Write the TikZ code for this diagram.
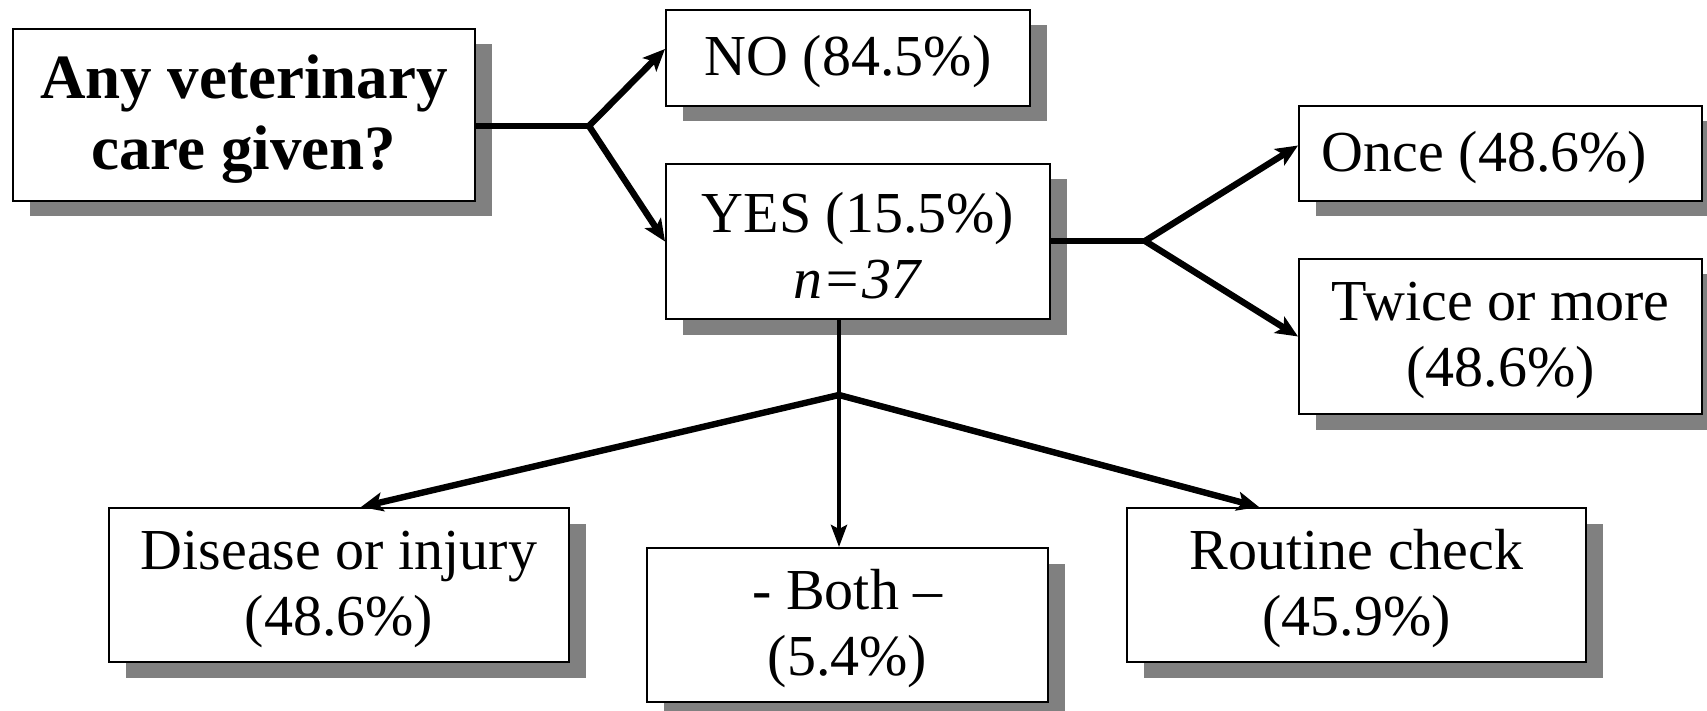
\documentclass[tikz,border=0pt]{standalone}
\usepackage{fontspec}
\setmainfont{Liberation Serif}
\usetikzlibrary{shadows,arrows.meta,calc}
\definecolor{shade}{RGB}{128,128,128}
\begin{document}
\begin{tikzpicture}[x=0.5pt,y=-0.5pt,
  box/.style={draw=black, line width=1pt, fill=white, inner sep=0pt,
    drop shadow={shadow xshift=8.25pt, shadow yshift=-7.75pt, opacity=1, fill=shade, draw=none}},
  lab/.style={align=center, inner sep=0pt, yshift=-2pt, font=\fontsize{29}{33}\selectfont},
  blab/.style={lab, font=\bfseries\fontsize{31.5}{35.5}\selectfont},
  conn/.style={line width=3.2pt, line join=miter},
  arr/.style={conn, -{Stealth[length=11pt, width=9.5pt, inset=2.5pt]}},
  thinarr/.style={line width=2pt, -{Stealth[length=11pt, width=8pt, inset=2pt]}}]
\useasboundingbox (0,0) rectangle (1707,711);
\clip (0,0) rectangle (1707,711);

\node[box, minimum width=231pt, minimum height=86pt,
  label={[blab]center:{Any veterinary\\care given?}}] (Q) at (244,115) {};
\node[box, minimum width=182pt, minimum height=48pt,
  label={[lab]center:{NO (84.5\%)}}] (NO) at (848,58) {};
\node[box, minimum width=192pt, minimum height=77.5pt,
  label={[lab]center:{YES (15.5\%)\\\textit{n=37}}}] (YES) at (858,241.5) {};
\node[box, minimum width=201.5pt, minimum height=47.5pt,
  label={[lab, xshift=-8pt]center:{Once (48.6\%)}}] (ONCE) at (1500.5,153.5) {};
\node[box, minimum width=201.5pt, minimum height=77.5pt,
  label={[lab]center:{Twice or more\\(48.6\%)}}] (TWICE) at (1500.5,336.5) {};
\node[box, minimum width=230pt, minimum height=77pt,
  label={[lab]center:{Disease or injury\\(48.6\%)}}] (DIS) at (339,585) {};
\node[box, minimum width=200.5pt, minimum height=77pt,
  label={[lab]center:{- Both --\\(5.4\%)}}] (BOTH) at (847.5,625) {};
\node[box, minimum width=229.5pt, minimum height=77pt,
  label={[lab]center:{Routine check\\(45.9\%)}}] (ROUT) at (1356.5,585) {};

\coordinate (j1) at (589,126);
\coordinate (j2) at (1145,241);
\coordinate (j3) at (839,395);

\draw[conn] (j1 -| Q.east) -- (j1);
\draw[arr] (j1) -- ([yshift=4.5pt]NO.west);
\draw[arr] (j1) -- (YES.west);

\draw[conn] (j2 -| YES.east) -- (j2);
\draw[arr] (j2) -- ([yshift=4pt]ONCE.west);
\draw[arr] (j2) -- (TWICE.west);

\draw[line width=2pt] (j3 |- YES.south) -- (j3);
\draw[thinarr] (j3) -- (j3 |- BOTH.north);
\draw[arr] (j3) -- ([xshift=11pt]DIS.north);
\draw[arr] (j3) -- ([xshift=-48.75pt]ROUT.north);
\end{tikzpicture}
\end{document}
